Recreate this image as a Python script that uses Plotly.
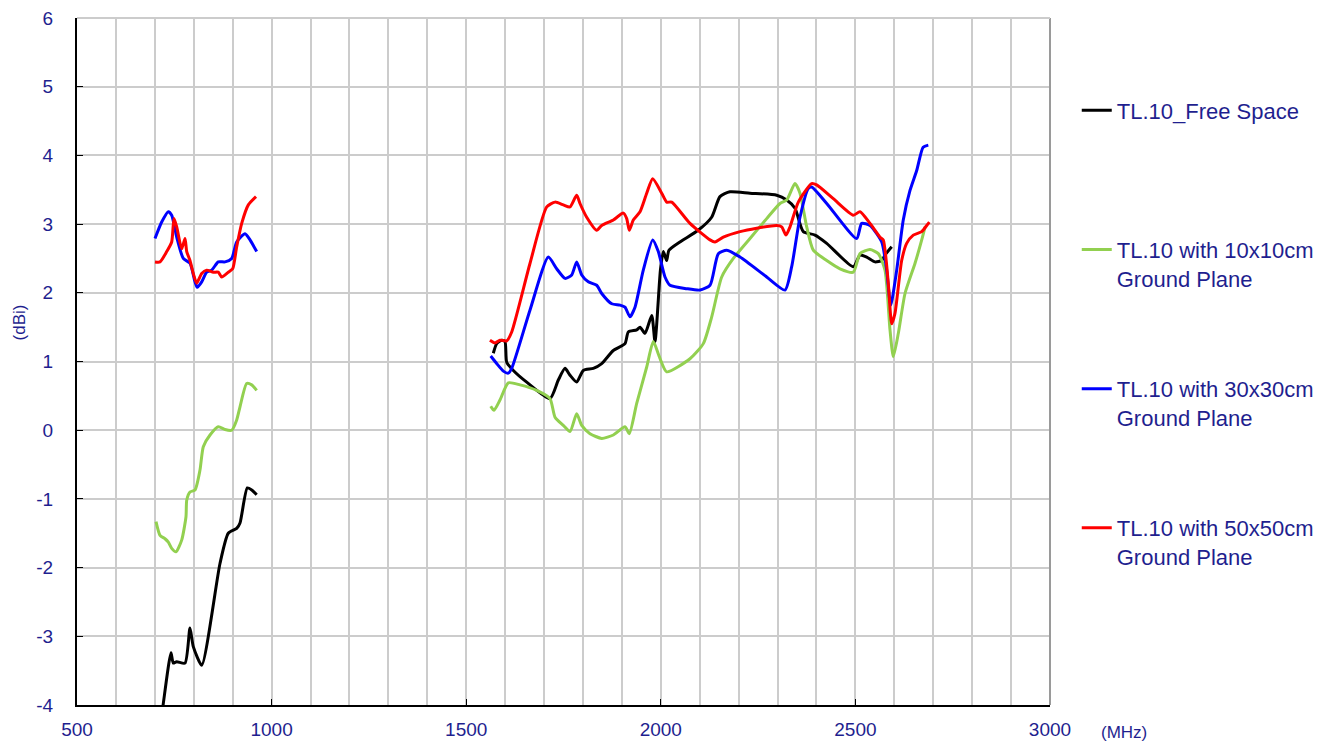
import plotly.graph_objects as go

# ---------------- data (MHz, dBi) ----------------
free_low_f = [712, 721.7, 741.5, 747.4, 756.2, 777.5, 790.3, 798.8, 820.4, 867.4, 888.7, 910.3, 918.8, 937.6, 948.9, 961.7]
free_low_g = [-4.4, -3.98, -3.24, -3.39, -3.37, -3.39, -2.88, -3.15, -3.42, -1.94, -1.50, -1.43, -1.35, -0.84, -0.87, -0.94]
free_high_f = [1569.6, 1578.4, 1591.2, 1599.7, 1604.1, 1621.1, 1655.5, 1715.3, 1736.7, 1753.9, 1766.7, 1783.9, 1800.9,
               1826.6, 1848.2, 1878, 1908, 1916.5, 1938.1, 1946.6, 1959.4, 1976.7, 1985.1, 1999, 2006.5, 2015, 2021,
               2049, 2096, 2130.6, 2152, 2177.6, 2229, 2297.8, 2323.5, 2344.8, 2366.1, 2396.2, 2426.3, 2494.6,
               2511.8, 2529, 2550.4, 2567.6, 2576, 2593.3]
free_high_g = [1.12, 1.26, 1.31, 1.29, 0.99, 0.87, 0.70, 0.46, 0.73, 0.90, 0.80, 0.70, 0.87,
               0.90, 0.97, 1.16, 1.26, 1.43, 1.46, 1.50, 1.41, 1.67, 1.29, 2.33, 2.60, 2.47, 2.62,
               2.74, 2.91, 3.10, 3.40, 3.47, 3.45, 3.42, 3.35, 3.23, 2.89, 2.84, 2.72, 2.38,
               2.55, 2.52, 2.45, 2.47, 2.55, 2.67]

gp10_low_f = [703, 713.3, 726.1, 734.6, 743.3, 754.4, 769, 780, 781.9, 790.3, 803.2, 816, 824.5, 841.8, 863, 880.3,
              897.5, 910.3, 918.8, 936, 948.9, 961.7]
gp10_low_g = [-1.33, -1.53, -1.58, -1.63, -1.72, -1.77, -1.60, -1.26, -1.02, -0.90, -0.87, -0.58, -0.24, -0.07, 0.05,
              0.01, 0.0, 0.15, 0.34, 0.68, 0.66, 0.58]
gp10_high_f = [1563, 1571.4, 1586.8, 1608.2, 1638.3, 1681.2, 1715.3, 1728.2, 1749.5, 1766.7, 1783.9, 1796.8, 1818.1,
               1848.2, 1878, 1908, 1919.1, 1938.1, 1963.8, 1980.7, 1996.2, 2015.2, 2075, 2109.2, 2130.8, 2156.5,
               2186.3, 2229.2, 2272.1, 2306.3, 2323.5, 2344.8, 2357.6, 2374.9, 2391.8, 2426.3, 2460.4, 2494.6,
               2511.8, 2537.5, 2558.9, 2576, 2588.9, 2597.4, 2610.3, 2627.5, 2653.2, 2670.4, 2679]
gp10_high_g = [0.35, 0.29, 0.44, 0.69, 0.66, 0.58, 0.46, 0.19, 0.07, -0.02, 0.24, 0.07, -0.05,
               -0.12, -0.07, 0.05, -0.05, 0.39, 0.92, 1.29, 1.07, 0.85, 1.04, 1.26, 1.65, 2.23,
               2.50, 2.79, 3.08, 3.30, 3.35, 3.59, 3.45, 2.96, 2.62, 2.47, 2.35, 2.30,
               2.57, 2.63, 2.57, 2.33, 1.46, 1.07, 1.41, 1.99, 2.43, 2.77, 2.96]

gp30_low_f = [700.4, 717.6, 734.6, 743.3, 756.2, 773.1, 790.3, 803.2, 809.1, 820.4, 833.2, 846.1, 863, 880.3, 897.5,
              910.3, 931.7, 944.5, 961.7]
gp30_low_g = [2.79, 3.03, 3.18, 3.13, 2.81, 2.50, 2.43, 2.16, 2.08, 2.16, 2.30, 2.33, 2.45, 2.45, 2.50,
              2.74, 2.86, 2.77, 2.60]
gp30_high_f = [1563, 1578.4, 1595.4, 1608.2, 1616.9, 1664, 1711, 1732.5, 1753.9, 1771.1, 1783.9, 1796.8, 1813.7,
               1835.3, 1848.2, 1873.9, 1895.2, 1908, 1920.9, 1933.7, 1955, 1979.2, 1993.6, 2010.8, 2023.7, 2066.6,
               2100.8, 2126.5, 2147.8, 2169.4, 2203.6, 2272.1, 2319.1, 2336.3, 2357.6, 2378.9, 2387.6, 2426.3,
               2503.3, 2516.1, 2537.5, 2567.6, 2580.4, 2590.7, 2606.1, 2623, 2640.3, 2657.5, 2674, 2687.3]
gp30_high_g = [1.08, 0.97, 0.86, 0.83, 0.90, 1.75, 2.52, 2.35, 2.21, 2.26, 2.45, 2.26, 2.16,
               2.11, 1.99, 1.84, 1.82, 1.79, 1.65, 1.79, 2.33, 2.77, 2.60, 2.23, 2.11, 2.06,
               2.04, 2.11, 2.57, 2.62, 2.52, 2.23, 2.04, 2.38, 3.10, 3.52, 3.54, 3.30,
               2.79, 3.01, 2.98, 2.74, 2.33, 1.82, 2.33, 3.06, 3.49, 3.78, 4.12, 4.15]

gp50_low_f = [700.4, 713.3, 730.5, 743.3, 749.2, 756.2, 769, 777.5, 781.9, 790.3, 798.8, 807.5, 820.4, 833.2, 850.2,
              863, 871.7, 888.7, 900, 910.3, 923.2, 940.2, 960]
gp50_low_g = [2.45, 2.45, 2.60, 2.74, 3.08, 2.96, 2.64, 2.79, 2.60, 2.47, 2.28, 2.14, 2.28, 2.33, 2.30,
              2.30, 2.23, 2.30, 2.35, 2.67, 3.01, 3.28, 3.40]
gp50_high_f = [1561, 1574, 1586.8, 1604, 1616.9, 1664, 1706.9, 1728.2, 1749.5, 1766.7, 1783.9, 1792.4, 1809.6,
               1835.3, 1848.2, 1878, 1903.7, 1912.4, 1919.1, 1929.4, 1946.6, 1963.8, 1979.2, 2002.3, 2015.2, 2028,
               2075, 2126.5, 2139.3, 2160.6, 2203.6, 2246.4, 2297.8, 2310.6, 2321.7, 2332, 2353.3, 2387.6, 2400.4,
               2443.2, 2494.6, 2511.8, 2537.5, 2563.2, 2571.6, 2584.5, 2593.3, 2601.7, 2618.9, 2631.7, 2648.7,
               2670.4, 2683.2, 2690]
gp50_high_g = [1.31, 1.27, 1.31, 1.30, 1.43, 2.43, 3.25, 3.32, 3.28, 3.25, 3.42, 3.30, 3.10,
               2.91, 2.98, 3.06, 3.16, 3.08, 2.91, 3.06, 3.18, 3.45, 3.66, 3.45, 3.32, 3.32,
               3.01, 2.77, 2.74, 2.81, 2.89, 2.94, 2.98, 2.96, 2.84, 2.96, 3.32, 3.59, 3.57,
               3.37, 3.13, 3.18, 3.01, 2.81, 2.77, 2.14, 1.55, 1.70, 2.47, 2.72, 2.84,
               2.89, 2.98, 3.03]

series = [
    ("TL.10_Free Space<br> ", "#000000", free_low_f, free_low_g, free_high_f, free_high_g),
    ("TL.10 with 10x10cm<br>Ground Plane", "#92D050", gp10_low_f, gp10_low_g, gp10_high_f, gp10_high_g),
    ("TL.10 with 30x30cm<br>Ground Plane", "#0000FF", gp30_low_f, gp30_low_g, gp30_high_f, gp30_high_g),
    ("TL.10 with 50x50cm<br>Ground Plane", "#FF0000", gp50_low_f, gp50_low_g, gp50_high_f, gp50_high_g),
]

x_ticks = [500, 1000, 1500, 2000, 2500, 3000]
y_ticks = [-4, -3, -2, -1, 0, 1, 2, 3, 4, 5, 6]

FONT = "Liberation Sans, Arial, sans-serif"
TXT = "#1f1f8f"

fig = go.Figure()
for i, (name, color, lf, lg, hf, hg) in enumerate(series):
    fig.add_trace(go.Scatter(
        x=lf + [None] + hf, y=lg + [None] + hg, name=name, mode="lines",
        line=dict(color=color, width=3, shape="spline", smoothing=0.6),
        connectgaps=False, legendgroup=str(i),
    ))

fig.update_layout(
    width=1341, height=745,
    margin=dict(l=77, r=291, t=18, b=40),
    paper_bgcolor="white", plot_bgcolor="white",
    font=dict(family=FONT, color=TXT),
    legend=dict(x=1.0275, y=0.896, xanchor="left", yanchor="top", valign="top",
                font=dict(family=FONT, size=22, color=TXT), tracegroupgap=79,
                bgcolor="rgba(0,0,0,0)", itemwidth=30),
    xaxis=dict(range=[500, 3000], tickvals=x_ticks, ticktext=[str(v) for v in x_ticks],
               showgrid=True, gridcolor="#cccccc", gridwidth=2,
               minor=dict(dtick=100, showgrid=True, gridcolor="#cccccc", gridwidth=2),
               showline=True, linecolor="#000000", linewidth=2,
               ticks="inside", ticklen=6, tickcolor="#000000", tickwidth=1,
               tickfont=dict(family=FONT, size=19, color=TXT), zeroline=False,
               ticklabelstandoff=6, automargin=False),
    yaxis=dict(range=[-4, 6], tickvals=y_ticks, ticktext=[str(v) for v in y_ticks],
               showgrid=True, gridcolor="#cccccc", gridwidth=2,
               showline=True, linecolor="#000000", linewidth=2,
               ticks="inside", ticklen=6, tickcolor="#000000", tickwidth=1,
               tickfont=dict(family=FONT, size=19, color=TXT), zeroline=False,
               ticklabelstandoff=18, automargin=False),
)

fig.add_shape(type="line", xref="paper", yref="paper", x0=1, x1=1, y0=0, y1=1,
              line=dict(color="#9a9a9a", width=2))
fig.add_shape(type="line", xref="paper", yref="paper", x0=0, x1=1, y0=1, y1=1,
              line=dict(color="#cccccc", width=2))

fig.add_annotation(text="(dBi)", xref="paper", yref="paper", x=-0.0595, y=0.557,
                   xanchor="center", textangle=-90, showarrow=False,
                   font=dict(family=FONT, size=17, color=TXT))
fig.add_annotation(text="(MHz)", xref="paper", yref="paper", x=1.05, y=-0.04, xanchor="left",
                   yanchor="middle", showarrow=False, font=dict(family=FONT, size=17, color=TXT))

fig.write_html("out.html", config={"displayModeBar": False},
               post_script="document.body.style.margin='0';document.body.style.overflow='hidden';")
